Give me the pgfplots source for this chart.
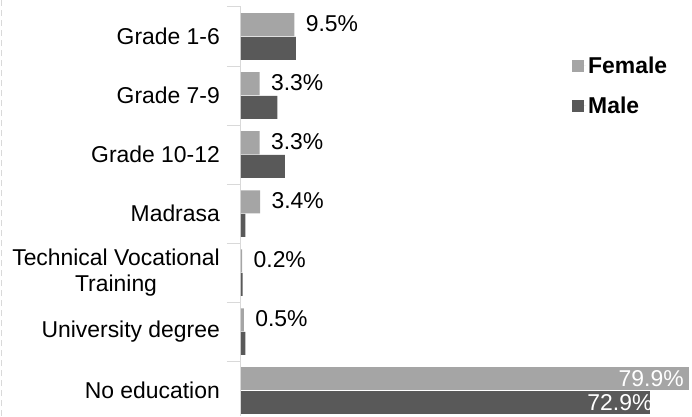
\documentclass[border=0pt]{standalone}
\usepackage{fontspec}
\setmainfont{Liberation Sans}
\usepackage{pgfplots}
\pgfplotsset{compat=1.18}
\definecolor{fem}{HTML}{A5A5A5}
\definecolor{mal}{HTML}{595959}
\definecolor{axgray}{HTML}{D9D9D9}
\newcommand{\bigf}{\fontsize{22.9}{25.5}\selectfont}
\begin{document}
\begin{tikzpicture}
\begin{axis}[
  scale only axis, width=451pt, height=409pt,
  xmin=0, xmax=80.4,
  ymin=-0.5, ymax=6.43, y dir=reverse,
  axis x line=none,
  axis y line*=left,
  axis line style={draw=axgray, line width=1pt},
  ytick={0,...,6},
  yticklabels={Grade 1-6, Grade 7-9, Grade 10-12, Madrasa, {Technical Vocational\\Training}, University degree, No education},
  yticklabel style={font=\bigf, align=center, inner sep=0pt, xshift=-21pt},
  major tick length=0pt,
  minor ytick={-0.5,0.5,...,5.5},
  minor tick length=14pt,
  tick align=center,
  minor tick style={draw=axgray, line width=1pt},
  xbar, bar width=0.39, bar shift=0pt,
  /pgf/number format/assume math mode=true,
  legend style={at={(axis description cs:0.734,0.884)}, anchor=north west, draw=none, fill=none, font=\bigf\bfseries, row sep=18pt, inner sep=0pt},
  legend cell align=left,
  legend image code/.code={\fill[#1] (0pt,-6pt) rectangle (12pt,6pt); \path (0pt,0pt) -- (14pt,0pt);},
]
\addplot[fill=fem, draw=none, point meta=x,
  nodes near coords={\pgfmathprintnumber[fixed,fixed zerofill,precision=1]{\pgfplotspointmeta}\%},
  every node near coord/.append style={font=\bigf, xshift=8pt, yshift=1pt}]
  coordinates {(9.5,-0.2) (3.3,0.8) (3.3,1.8) (3.4,2.8) (0.2,3.8) (0.5,4.8)};
\addlegendentry{Female}
\addplot[fill=fem, draw=none, forget plot, point meta=x,
  nodes near coords={\pgfmathprintnumber[fixed,fixed zerofill,precision=1]{\pgfplotspointmeta}\%},
  nodes near coords align={anchor=east},
  every node near coord/.append style={font=\bigf, text=white, xshift=-2pt}]
  coordinates {(79.9,5.8)};
\addplot[fill=mal, draw=none]
  coordinates {(9.8,0.2) (6.5,1.2) (7.8,2.2) (0.8,3.2) (0.3,4.2) (0.8,5.2)};
\addlegendentry{Male}
\addplot[fill=mal, draw=none, forget plot, point meta=x,
  nodes near coords={\pgfmathprintnumber[fixed,fixed zerofill,precision=1]{\pgfplotspointmeta}\%},
  nodes near coords align={anchor=east},
  every node near coord/.append style={font=\bigf, text=white, xshift=6pt}]
  coordinates {(72.9,6.2)};
\end{axis}
\draw[draw=axgray, line width=1pt, dash pattern=on 6pt off 4pt] (-239pt,0) -- (-239pt,416pt);
\pgfresetboundingbox
\path[use as bounding box] (-241pt,0) rectangle (451pt,416pt);
\end{tikzpicture}
\end{document}
